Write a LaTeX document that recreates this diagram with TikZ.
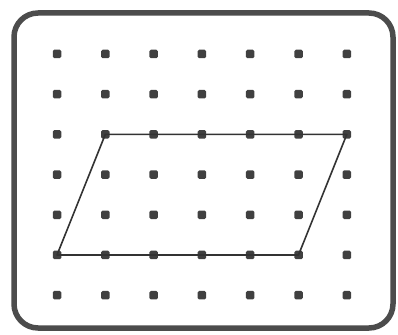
\documentclass[tikz,border=0pt]{standalone}
\usepackage{tikz}

\begin{document}
\begin{tikzpicture}[x=1pt, y=1pt,
    peg/.style={rectangle, rounded corners=1.5pt, fill=black!75, inner sep=0pt, minimum size=8.5pt},
    board/.style={line width=5.5pt, draw=black!70, rounded corners=24pt},
    outline/.style={line width=1.6pt, draw=black!80, line join=round}]
    \useasboundingbox (0,0) rectangle (398,334);

    % Board
    \draw[board] (14,6) rectangle (393,321);

    % Pegs
    \foreach \i in {1,...,7} {
        \foreach \j in {1,...,7} {
            \node[peg] (p\i-\j) at ({57+48.3*(\i-1)}, {280-40.2*(\j-1)}) {};
        }
    }

    % Parallelogram
    \draw[outline] (p2-3.center) -- (p7-3.center) -- (p6-6.center) -- (p1-6.center) -- cycle;

\end{tikzpicture}
\end{document}
